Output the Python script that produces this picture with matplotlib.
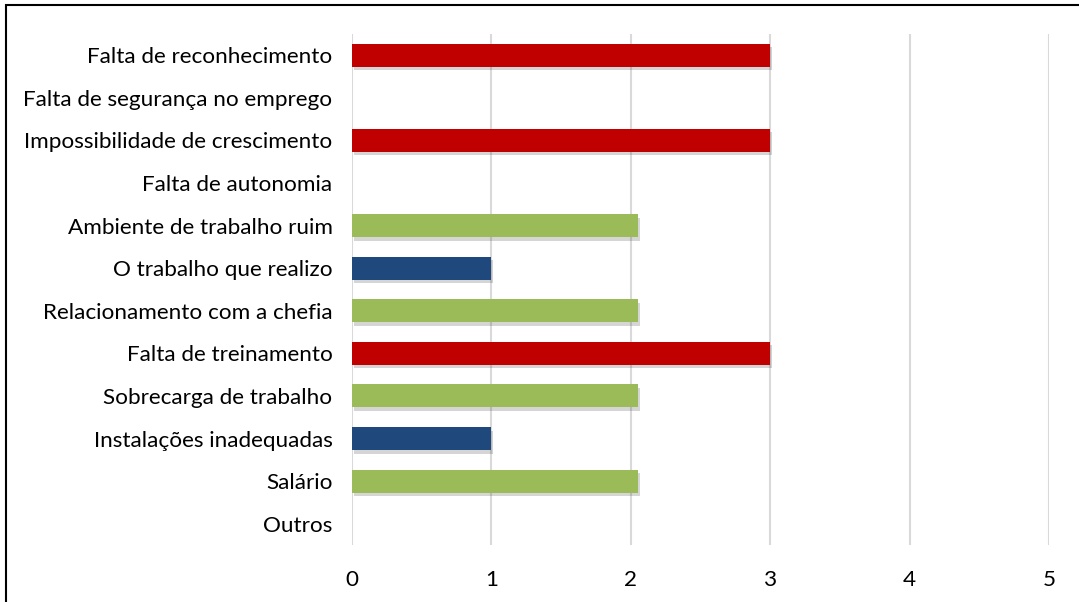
import matplotlib
matplotlib.use("Agg")
import matplotlib.pyplot as plt
import matplotlib.patheffects as pe
from matplotlib.patches import Rectangle

categories = [
    "Falta de reconhecimento",
    "Falta de segurança no emprego",
    "Impossibilidade de crescimento",
    "Falta de autonomia",
    "Ambiente de trabalho ruim",
    "O trabalho que realizo",
    "Relacionamento com a chefia",
    "Falta de treinamento",
    "Sobrecarga de trabalho",
    "Instalações inadequadas",
    "Salário",
    "Outros",
]
values = [3, 0, 3, 0, 2.05, 1, 2.05, 3, 2.05, 1, 2.05, 0]
bar_colors = ["#C00000", "#C00000", "#C00000", "#C00000", "#9BBB59", "#1F497D",
              "#9BBB59", "#C00000", "#9BBB59", "#1F497D", "#9BBB59", "#C00000"]
x_ticks = [0, 1, 2, 3, 4, 5]

plt.rcParams['font.family'] = ['Lato', 'DejaVu Sans']

fig = plt.figure(figsize=(10.79, 6.02), dpi=100)
ax = fig.add_axes([0.3262, 0.0947, 0.6460, 0.8488])

ypos = list(range(len(categories)))
shadow = [pe.SimplePatchShadow(offset=(1.5, -2.5), alpha=0.22, shadow_rgbFace='#404040'), pe.Normal()]
for y, v, c in zip(ypos, values, bar_colors):
    if v > 0:
        b = ax.barh(y, v, height=0.54, color=c, zorder=3)
        b[0].set_path_effects(shadow)

ax.set_xlim(0, 5)
ax.set_ylim(len(categories) - 0.5, -0.5)
ax.set_xticks(x_ticks)
ax.set_yticks(ypos)
ax.set_yticklabels(categories)
ax.tick_params(axis='both', length=0, labelsize=16.2, colors='black')
ax.tick_params(axis='y', pad=14)
ax.tick_params(axis='x', pad=18)
ax.grid(axis='x', color='#D9D9D9', linewidth=1.5, zorder=0)
ax.set_axisbelow(True)
for s in ax.spines.values():
    s.set_visible(False)

# outer chart frame (cut at the right and bottom of the picture)
fig.patches.append(Rectangle((6 / 1079, -0.1), 1.2, 1.1 - 5 / 602,
                             transform=fig.transFigure, fill=False,
                             edgecolor='black', linewidth=1.5))

fig.savefig("out.png", dpi=100)
